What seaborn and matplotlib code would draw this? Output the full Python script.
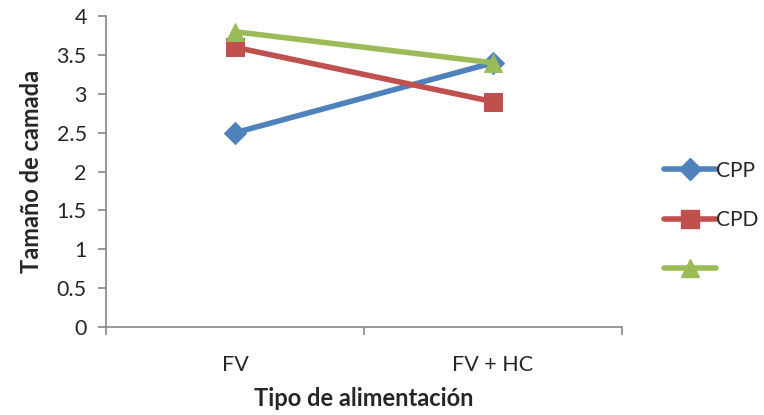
import numpy as np
import pandas as pd
import matplotlib
matplotlib.use("Agg")
import matplotlib.pyplot as plt
from matplotlib.lines import Line2D
import seaborn as sns

# data
categories = ["FV", "FV + HC"]
series_names = ["CPP", "CPD", ""]
cpp = [2.5, 3.4]
cpd = [3.6, 2.9]
third = [3.8, 3.4]
y_ticks = [0, 0.5, 1, 1.5, 2, 2.5, 3, 3.5, 4]
y_tick_labels = ["0", "0.5", "1", "1.5", "2", "2.5", "3", "3.5", "4"]

colors = ["#4F81BD", "#C0504D", "#9BBB59"]
markers = ["D", "s", "^"]
msizes = [11, 13, 13]

sns.set_style("white")
plt.rcParams["font.family"] = ["Lato", "DejaVu Sans"]

fig = plt.figure(figsize=(7.64, 4.15), dpi=100)
ax = fig.add_axes([0.139, 0.212, 0.675, 0.749])

values = [cpp, cpd, third]
for name, vals, c, m, ms in zip(series_names, values, colors, markers, msizes):
    df = pd.DataFrame({"x": np.arange(len(categories)), "y": vals})
    sns.lineplot(data=df, x="x", y="y", ax=ax, color=c, marker=m, markersize=ms,
                 markeredgecolor=c, linewidth=4, legend=False)

ax.set_xlim(-0.5, len(categories) - 0.5)
ax.set_ylim(0, 4)
ax.set_yticks(y_ticks)
ax.set_yticklabels(y_tick_labels)
ax.set_xticks(np.arange(len(categories)))
ax.set_xticklabels(categories)
ax.set_xticks(np.arange(len(categories) + 1) - 0.5, minor=True)

gray = "#868686"
for side in ["top", "right"]:
    ax.spines[side].set_visible(False)
for side in ["left", "bottom"]:
    ax.spines[side].set_color(gray)
    ax.spines[side].set_linewidth(1.2)

ax.tick_params(axis="y", which="major", direction="out", length=6, width=1.2,
               color=gray, labelsize=15.5, pad=8, left=True)
ax.tick_params(axis="x", which="major", length=0, labelsize=15.5, pad=20)
ax.tick_params(axis="x", which="minor", direction="out", length=6, width=1.2,
               color=gray, bottom=True)

ax.set_xlabel("Tipo de alimentación", fontsize=17, fontweight="bold", labelpad=9)
ax.set_ylabel("Tamaño de camada", fontsize=17, fontweight="bold", labelpad=10)

handles = [Line2D([], [], color=c, marker=m, markersize=ms, markeredgecolor=c,
                  linewidth=4) for c, m, ms in zip(colors, markers, msizes)]
fig.legend(handles, series_names, loc="center left", bbox_to_anchor=(0.844, 0.47),
           frameon=False, fontsize=15, handlelength=2.5, handletextpad=0.0,
           labelspacing=1.4)

fig.savefig("out.png", dpi=100)
